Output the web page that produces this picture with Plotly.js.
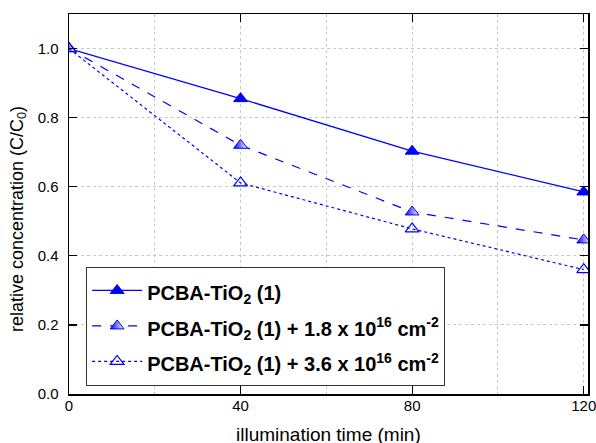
<!DOCTYPE html>
<html><head><meta charset="utf-8">
<script src="https://cdn.plot.ly/plotly-3.0.1.min.js"></script>
<style>body{margin:0;background:#fff}</style>
</head><body><div id="chart" style="width:596px;height:443px"></div>
<script>
const time = [0, 40, 80, 120];
const seriesA = [1.0, 0.855, 0.703, 0.585];
const seriesB = [1.0, 0.72, 0.527, 0.446];
const seriesC = [1.0, 0.611, 0.478, 0.36];
const seriesNames = [
  'PCBA-TiO<sub>2</sub> (1)',
  'PCBA-TiO<sub>2</sub> (1) + 1.8 x 10<sup>16</sup> cm<sup>-2</sup>',
  'PCBA-TiO<sub>2</sub> (1) + 3.6 x 10<sup>16</sup> cm<sup>-2</sup>'
];
const xTickVals = [0, 40, 80, 120];
const yTickVals = [0.0, 0.2, 0.4, 0.6, 0.8, 1.0];
const yTickText = ['0.0', '0.2', '0.4', '0.6', '0.8', '1.0'];
const xTitle = 'illumination time (min)';
const yTitle = 'relative concentration (C/C<sub>0</sub>)';

const blue = '#0000ff';
const legendLabel = s => '<span style="font-size:20px">' + s + '</span>';
const traces = [
  {x: time, y: seriesA, name: legendLabel(seriesNames[0]), mode: 'lines+markers', cliponaxis: true,
   line: {color: blue, width: 1.2, dash: 'solid'},
   marker: {symbol: 'triangle-up', size: 12, color: blue, line: {color: blue, width: 1}}},
  {x: time, y: seriesB, name: legendLabel(seriesNames[1]), mode: 'lines+markers', cliponaxis: true,
   line: {color: blue, width: 1.2, dash: 'dash'},
   marker: {symbol: 'triangle-up', size: 12, color: blue, line: {color: blue, width: 1},
            gradient: {type: 'horizontal', color: '#ffffff'}}},
  {x: time, y: seriesC, name: legendLabel(seriesNames[2]), mode: 'lines+markers', cliponaxis: true,
   line: {color: blue, width: 1.2, dash: 'dot'},
   marker: {symbol: 'triangle-up-open', size: 12, color: blue, line: {color: blue, width: 1.2}}}
];

const font = {family: 'Liberation Sans, Arial, sans-serif', color: '#000'};
const layout = {
  width: 596, height: 443,
  margin: {l: 69, r: 8, t: 14, b: 49},
  paper_bgcolor: '#fff', plot_bgcolor: '#fff',
  font: font,
  showlegend: true,
  xaxis: {
    range: [0, 121], tickvals: xTickVals, ticks: 'inside', ticklen: 8, tickwidth: 1.2,
    tickcolor: '#000', showline: true, linecolor: '#000', linewidth: 1.5, mirror: 'ticks',
    showgrid: true, gridcolor: '#c8c8c8', griddash: 'dot', gridwidth: 1,
    minor: {dtick: 20, showgrid: true, gridcolor: '#c8c8c8', griddash: 'dot', ticklen: 0},
    zeroline: false, tickfont: {size: 15}, ticklabelstandoff: -3, ticklabeloverflow: 'allow'
  },
  yaxis: {
    range: [0, 1.1], tickvals: yTickVals, ticktext: yTickText, ticks: 'inside', ticklen: 8, tickwidth: 1.2,
    tickcolor: '#000', showline: true, linecolor: '#000', linewidth: 1.5, mirror: 'ticks',
    showgrid: true, gridcolor: '#c8c8c8', griddash: 'dot', gridwidth: 1,
    zeroline: false, tickfont: {size: 15}, ticklabelstandoff: 6,
    title: {text: yTitle + '&nbsp;&nbsp;&nbsp;&nbsp;&nbsp;&nbsp;', font: {size: 18}}
  },
  annotations: [{
    text: xTitle, xref: 'paper', yref: 'paper', x: 0.5, y: -0.106,
    xanchor: 'center', yanchor: 'middle', showarrow: false,
    font: {family: 'Liberation Sans, Arial, sans-serif', size: 19, color: '#000'}
  }],
  legend: {
    x: 0.033, y: 0.335, xanchor: 'left', yanchor: 'top',
    bgcolor: '#fff', bordercolor: '#333', borderwidth: 1,
    font: {family: 'Liberation Sans, Arial, sans-serif', size: 25, weight: 'bold', color: '#000'},
    itemwidth: 50
  }
};
Plotly.newPlot('chart', traces, layout, {displayModeBar: false, staticPlot: true});
</script></body></html>
